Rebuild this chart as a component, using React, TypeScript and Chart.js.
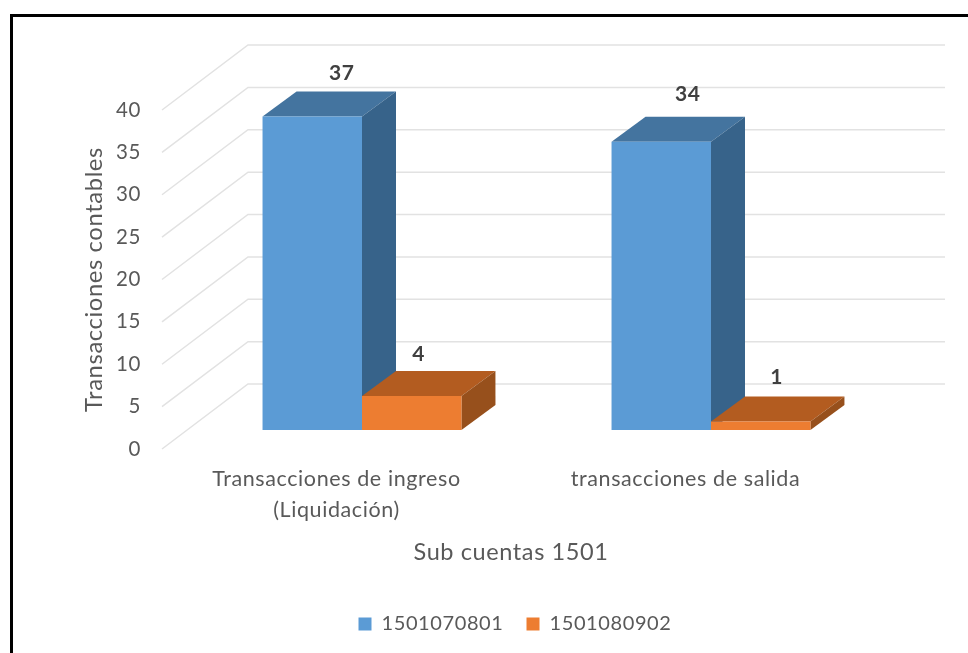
import React, { useEffect, useRef } from "react";
import { Chart, registerables } from "chart.js";

Chart.register(...registerables);

const categories = [["Transacciones de ingreso", "(Liquidación)"], "transacciones de salida"];
const seriesNames = ["1501070801", "1501080902"];
const seriesA = [37, 34];
const seriesB = [4, 1];
const yTicks = [0, 5, 10, 15, 20, 25, 30, 35, 40];

const FONT = "Lato, sans-serif";
const TEXT = "#595959";
const FACE = ["#5B9BD5", "#ED7D31"];
const TOP = ["#44749F", "#B35C20"];
const SIDE = ["#37638A", "#97501C"];
const PLANE = { dx: 25.5, dy: -19 };
const DEPTH = { dx: 34, dy: -25 };
const WALL = { dx: 86, dy: -65, right: 945 };
const LABEL_NUDGE = [
  [[29.5, -43], [26.5, -48]],
  [[7, -42], [16, -44]],
];
const TRACKING = "0.6px";
const LEGEND_SHIFT = -9;

const poly = (ctx: CanvasRenderingContext2D, pts: number[][], fill: string) => {
  ctx.beginPath();
  pts.forEach(([x, y], i) => (i ? ctx.lineTo(x, y) : ctx.moveTo(x, y)));
  ctx.closePath();
  ctx.fillStyle = fill;
  ctx.fill();
};

const bars3d = {
  id: "bars3d",
  beforeLayout(chart: any) {
    chart.ctx.letterSpacing = TRACKING;
  },
  afterLayout(chart: any) {
    chart.legend.top += LEGEND_SHIFT;
    chart.legend.bottom += LEGEND_SHIFT;
  },
  beforeDraw(chart: any) {
    chart.ctx.letterSpacing = TRACKING;
  },
  beforeDatasetsDraw(chart: any) {
    const ctx: CanvasRenderingContext2D = chart.ctx;
    const { x, y } = chart.scales;
    ctx.save();
    ctx.strokeStyle = "#E2E2E2";
    ctx.lineWidth = 1.5;
    yTicks.forEach((t) => {
      const py = y.getPixelForValue(t);
      ctx.beginPath();
      ctx.moveTo(x.left, py);
      ctx.lineTo(x.left + WALL.dx, py + WALL.dy);
      ctx.lineTo(WALL.right, py + WALL.dy);
      ctx.stroke();
    });
    ctx.restore();

    ctx.save();
    ctx.translate(PLANE.dx, PLANE.dy);
    categories.forEach((_, c) => {
      chart.data.datasets.forEach((_d: any, d: number) => {
        const bar = chart.getDatasetMeta(d).data[c];
        const l = bar.x - bar.width / 2;
        const r = bar.x + bar.width / 2;
        const t = bar.y;
        const b = bar.base;
        poly(ctx, [[l, t], [l + DEPTH.dx, t + DEPTH.dy], [r + DEPTH.dx, t + DEPTH.dy], [r, t]], TOP[d]);
        poly(ctx, [[r, t], [r + DEPTH.dx, t + DEPTH.dy], [r + DEPTH.dx, b + DEPTH.dy], [r, b]], SIDE[d]);
      });
    });
  },
  afterDatasetsDraw(chart: any) {
    const ctx: CanvasRenderingContext2D = chart.ctx;
    ctx.restore();
    ctx.save();
    ctx.font = `bold 21px ${FONT}`;
    ctx.fillStyle = "#404040";
    ctx.textAlign = "center";
    ctx.textBaseline = "middle";
    chart.data.datasets.forEach((ds: any, d: number) => {
      chart.getDatasetMeta(d).data.forEach((bar: any, c: number) => {
        const [nx, ny] = LABEL_NUDGE[d][c];
        ctx.fillText(String(ds.data[c]), bar.x + PLANE.dx + nx, bar.y + PLANE.dy + ny);
      });
    });
    ctx.restore();
  },
};

export default function App() {
  const ref = useRef<HTMLCanvasElement>(null);
  useEffect(() => {
    const chart = new Chart(ref.current!, {
      type: "bar",
      data: {
        labels: categories as any,
        datasets: [
          { label: seriesNames[0], data: seriesA, backgroundColor: FACE[0], clip: false as any },
          { label: seriesNames[1], data: seriesB, backgroundColor: FACE[1], clip: false as any },
        ],
      },
      options: {
        responsive: false,
        animation: false,
        layout: { padding: { left: 80, right: 18, top: 110, bottom: 0 } },
        categoryPercentage: 0.57,
        barPercentage: 1,
        plugins: {
          tooltip: { enabled: false },
          legend: {
            position: "bottom",
            labels: {
              color: TEXT,
              font: { family: FONT, size: 20 },
              boxWidth: 13,
              boxHeight: 13,
              padding: 23,
            },
          },
        },
        scales: {
          x: {
            grid: { display: false, drawTicks: false },
            border: { display: false },
            ticks: {
              color: TEXT,
              font: { family: FONT, size: 21.5, lineHeight: 1.44 },
              padding: 15,
              maxRotation: 0,
              autoSkip: false,
            },
            title: {
              display: true,
              text: "Sub cuentas 1501",
              color: TEXT,
              font: { family: FONT, size: 23.5 },
              padding: { top: 0, bottom: 33 },
            },
            afterFit: (s: any) => {
              s.height = 151;
            },
          },
          y: {
            min: 0,
            max: 40,
            grid: { display: false, drawTicks: false },
            border: { display: false },
            ticks: {
              stepSize: 5,
              color: TEXT,
              font: { family: FONT, size: 20.5 },
              padding: 21,
            },
            title: {
              display: true,
              text: "Transacciones contables",
              color: TEXT,
              font: { family: FONT, size: 23.8 },
              padding: { top: 0, bottom: 0 },
            },
            afterFit: (s: any) => {
              s.width = 82;
            },
          },
          yr: {
            position: "right",
            display: true,
            grid: { display: false, drawTicks: false },
            border: { display: false },
            ticks: { display: false },
            afterFit: (s: any) => {
              s.width = 90;
            },
          },
        },
      } as any,
      plugins: [bars3d],
    });
    return () => chart.destroy();
  }, []);
  return (
    <div style={{ position: "fixed", left: 0, top: 0, width: 968, height: 653, background: "#fff", overflow: "hidden" }}>
      <canvas ref={ref} width={968} height={653} style={{ display: "block", filter: "blur(0.4px)" }} />
      <div
        style={{
          position: "absolute",
          left: 10,
          top: 14,
          right: 0,
          bottom: 0,
          borderLeft: "3px solid #000",
          borderTop: "3px solid #000",
          pointerEvents: "none",
        }}
      />
    </div>
  );
}
